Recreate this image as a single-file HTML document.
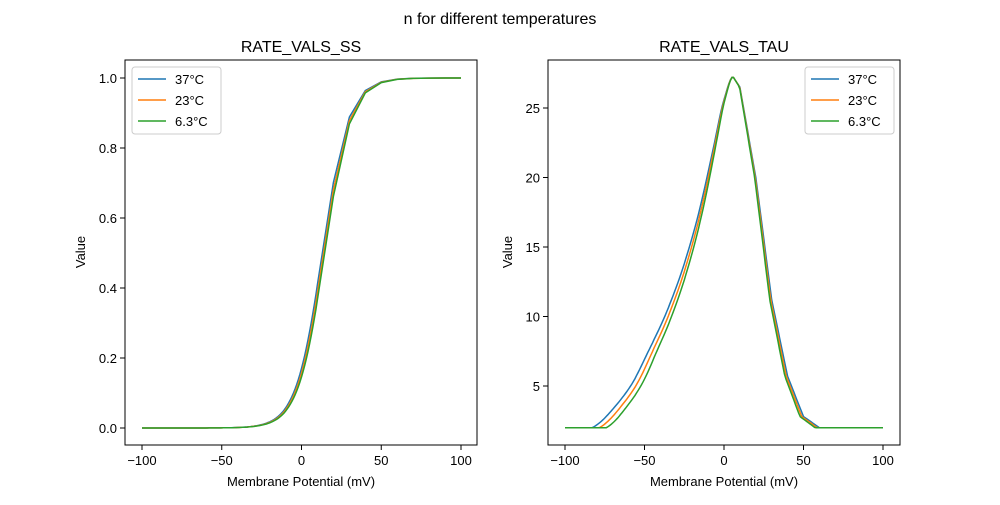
<!DOCTYPE html>
<html><head><meta charset="utf-8"><style>
body{margin:0;background:#fff;}
svg{font-family:"Liberation Sans","DejaVu Sans",sans-serif;}
</style></head><body>
<svg id="s" width="1000" height="500" viewBox="0 0 1000 500" xmlns="http://www.w3.org/2000/svg">
<rect width="1000" height="500" fill="#fff"/>
<text x="500" y="24" font-size="16" text-anchor="middle">n for different temperatures</text>
<text x="301" y="52" font-size="16" text-anchor="middle">RATE_VALS_SS</text>
<text x="724" y="52" font-size="16" text-anchor="middle">RATE_VALS_TAU</text>
<g id="g"></g>
<rect x="125" y="60" width="352" height="385" fill="none" stroke="#000" stroke-width="1"/>
<rect x="548" y="60" width="352" height="385" fill="none" stroke="#000" stroke-width="1"/>
<text x="301" y="486" font-size="13" text-anchor="middle">Membrane Potential (mV)</text>
<text x="724" y="486" font-size="13" text-anchor="middle">Membrane Potential (mV)</text>
<text transform="translate(85,252) rotate(-90)" font-size="13" text-anchor="middle">Value</text>
<text transform="translate(512,252) rotate(-90)" font-size="13" text-anchor="middle">Value</text>
<rect x="132" y="67" width="89" height="67" rx="3" fill="#fff" stroke="#ccc"/>
<rect x="805" y="67" width="89" height="67" rx="3" fill="#fff" stroke="#ccc"/>
</svg>
<script>
var NS="http://www.w3.org/2000/svg",g=document.getElementById('g'),s=document.getElementById('s');
function el(t,a,txt){var e=document.createElementNS(NS,t);for(var k in a)e.setAttribute(k,a[k]);if(txt!=null)e.textContent=txt;return e;}
var cols=['#1f77b4','#ff7f0e','#2ca02c'],labs=['37°C','23°C','6.3°C'];
function xt(x0,x1){[-100,-50,0,50,100].forEach(function(v){var x=x0+(v+100)*(x1-x0)/200;g.appendChild(el('line',{x1:x,x2:x,y1:445,y2:450,stroke:'#000'}));g.appendChild(el('text',{x:x,y:465,'font-size':13,'text-anchor':'middle'},String(v).replace('-','−')));});}
xt(142,461);xt(565,883);
[0,0.2,0.4,0.6,0.8,1.0].forEach(function(v){var y=428-v*350;g.appendChild(el('line',{x1:120,x2:125,y1:y,y2:y,stroke:'#000'}));g.appendChild(el('text',{x:117,y:y+5,'font-size':13,'text-anchor':'end'},v.toFixed(1)));});
[5,10,15,20,25].forEach(function(v){var y=386-(v-5)*13.9;g.appendChild(el('line',{x1:543,x2:548,y1:y,y2:y,stroke:'#000'}));g.appendChild(el('text',{x:540,y:y+5,'font-size':13,'text-anchor':'end'},String(v)));});
// left side (d = v-5.7, tau) for 37C, interpolated in log space with PCHIP
var L=[[-130,0.45],[-95,1.6],[-85.7,2.2],[-74.4,3.5],[-63.9,5.1],[-53.7,7.4],[-43,10],[-32.7,13.1],[-21.7,17.4],[-11.7,22.5],[-5.7,25.6],[0,27.25],[3,27.0]];
var X=L.map(function(p){return p[0];}),Y=L.map(function(p){return Math.log(p[1]);});
var n=X.length,h=[],dl=[],m=[];
for(var i=0;i<n-1;i++){h[i]=X[i+1]-X[i];dl[i]=(Y[i+1]-Y[i])/h[i];}
m[0]=dl[0];m[n-1]=dl[n-2];
for(var i=1;i<n-1;i++){if(dl[i-1]*dl[i]<=0)m[i]=0;else{var w1=2*h[i]+h[i-1],w2=h[i]+2*h[i-1];m[i]=(w1+w2)/(w1/dl[i-1]+w2/dl[i]);}}
function pchip(x){for(var i=0;i<n-1;i++){if(x>=X[i]&&x<=X[i+1]){var t=(x-X[i])/h[i],t2=t*t,t3=t2*t;return (2*t3-3*t2+1)*Y[i]+(t3-2*t2+t)*h[i]*m[i]+(-2*t3+3*t2)*Y[i+1]+(t3-t2)*h[i]*m[i+1];}}return -5;}
var R=[[0,25.25],[4.3,24.5],[14.3,18],[24.3,9.2],[34.3,3.7],[44.3,0.8],[54.3,0],[120,0]];
function lin(P,v){for(var i=0;i<P.length-1;i++){if(v>=P[i][0]&&v<=P[i+1][0]){var t=(v-P[i][0])/(P[i+1][0]-P[i][0]);return P[i][1]+t*(P[i+1][1]-P[i][1]);}}return 0;}
var kl=[1,0.95,0.9],kr=[1,0.975,0.95],shifts=[0,0.8,1.5];
for(var i=0;i<3;i++){
 var p='',q='';
 for(var v=-100;v<=100;v+=1){
  if(v<10||v%10==0){
   var ss=1/(1+Math.exp(-(v-13-shifts[i])/8.2));
   var x=142+(v+100)*1.595;p+=(p?'L':'M')+x.toFixed(1)+','+(428-ss*350).toFixed(1);
  }
  var d=v-5.7,t;
  if(d<0)t=Math.max(2,Math.exp(pchip(d/kl[i])));else t=2+Math.max(0,lin(R,d/kr[i]));
  var x2=565+(v+100)*1.59;q+=(q?'L':'M')+x2.toFixed(1)+','+(386-(t-5)*13.9).toFixed(1);
 }
 g.appendChild(el('path',{d:p,fill:'none',stroke:cols[i],'stroke-width':1.5}));
 g.appendChild(el('path',{d:q,fill:'none',stroke:cols[i],'stroke-width':1.5}));
}
[132,805].forEach(function(x){for(var i=0;i<3;i++){var y=79+i*21;s.appendChild(el('line',{x1:x+6,x2:x+34,y1:y,y2:y,stroke:cols[i],'stroke-width':1.5}));s.appendChild(el('text',{x:x+43,y:y+5,'font-size':13},labs[i]));}});
</script>
</body></html>
